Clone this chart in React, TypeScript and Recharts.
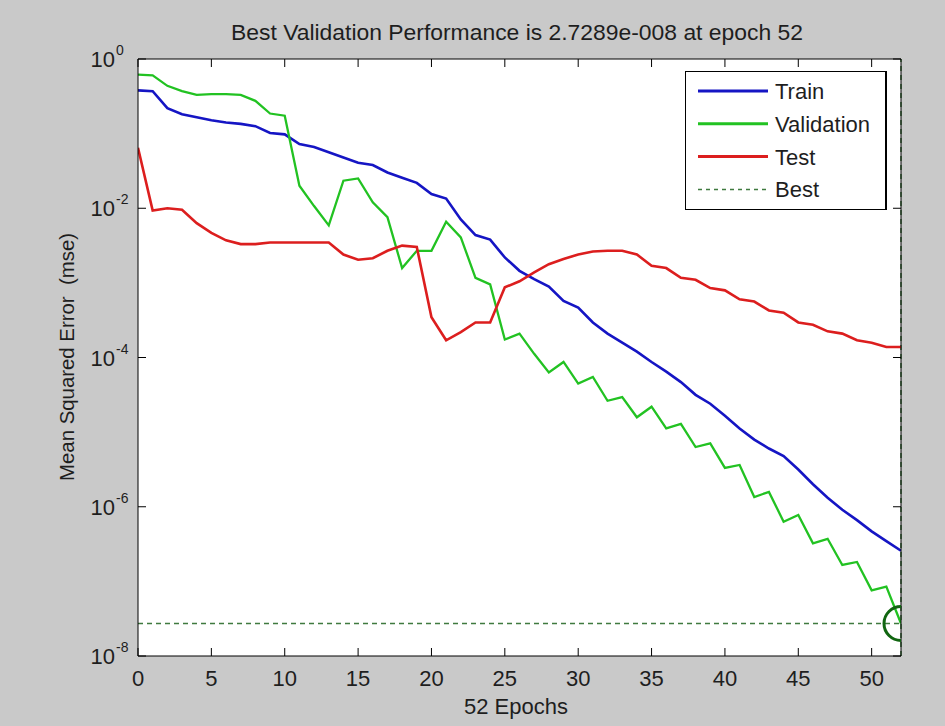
import React from 'react';
import { LineChart, Line, XAxis, YAxis, ReferenceLine, ReferenceDot, Legend, CartesianGrid } from 'recharts';

const epochs = [0, 1, 2, 3, 4, 5, 6, 7, 8, 9, 10, 11, 12, 13, 14, 15, 16, 17, 18, 19, 20, 21, 22, 23, 24, 25, 26, 27, 28, 29, 30, 31, 32, 33, 34, 35, 36, 37, 38, 39, 40, 41, 42, 43, 44, 45, 46, 47, 48, 49, 50, 51, 52];

const trainMse = [
  0.38, 0.37, 0.219, 0.182, 0.166, 0.151, 0.141, 0.135, 0.126, 0.102,
  0.0977, 0.0724, 0.0661, 0.0562, 0.0479, 0.0407, 0.038, 0.0302, 0.0257, 0.0219,
  0.0155, 0.0135, 0.00708, 0.00437, 0.0038, 0.00219, 0.00145, 0.00112, 8.91e-4, 5.75e-4,
  4.68e-4, 2.95e-4, 2.09e-4, 1.58e-4, 1.2e-4, 8.71e-5, 6.46e-5, 4.68e-5, 3.16e-5, 2.4e-5,
  1.66e-5, 1.12e-5, 7.94e-6, 6.03e-6, 4.79e-6, 3.16e-6, 2.0e-6, 1.32e-6, 9.12e-7, 6.61e-7,
  4.68e-7, 3.47e-7, 2.57e-7,
];

const validationMse = [
  0.617, 0.603, 0.437, 0.372, 0.331, 0.339, 0.339, 0.331, 0.275, 0.186,
  0.174, 0.02, 0.0107, 0.00589, 0.0234, 0.0251, 0.012, 0.00759, 0.00158, 0.00269,
  0.00269, 0.00661, 0.00407, 0.00117, 9.55e-4, 1.74e-4, 2.09e-4, 1.12e-4, 6.31e-5, 8.71e-5,
  4.47e-5, 5.5e-5, 2.63e-5, 2.95e-5, 1.58e-5, 2.19e-5, 1.12e-5, 1.29e-5, 6.31e-6, 7.08e-6,
  3.31e-6, 3.63e-6, 1.35e-6, 1.58e-6, 6.31e-7, 7.76e-7, 3.24e-7, 3.72e-7, 1.66e-7, 1.82e-7,
  7.59e-8, 8.51e-8, 2.7289e-8,
];

const testMse = [
  0.0646, 0.00933, 0.01, 0.00955, 0.00631, 0.00468, 0.00372, 0.00331, 0.00331, 0.00347,
  0.00347, 0.00347, 0.00347, 0.00347, 0.0024, 0.00204, 0.00214, 0.00269, 0.00316, 0.00302,
  3.47e-4, 1.7e-4, 2.19e-4, 2.95e-4, 2.95e-4, 8.71e-4, 0.00105, 0.00138, 0.00178, 0.00209,
  0.0024, 0.00263, 0.00269, 0.00269, 0.0024, 0.0017, 0.00158, 0.00117, 0.0011, 8.51e-4,
  7.94e-4, 6.03e-4, 5.62e-4, 4.27e-4, 3.98e-4, 2.95e-4, 2.75e-4, 2.24e-4, 2.09e-4, 1.7e-4,
  1.58e-4, 1.38e-4, 1.38e-4,
];

const xTicks = [0, 5, 10, 15, 20, 25, 30, 35, 40, 45, 50];
const yTicks = [1, 1e-2, 1e-4, 1e-6, 1e-8];
const yTickExponents = ['0', '-2', '-4', '-6', '-8'];

const bestEpoch = 52;
const bestPerf = 2.7289e-8;

const legendNames = ['Train', 'Validation', 'Test', 'Best'];
const titleText = 'Best Validation Performance is 2.7289e-008 at epoch 52';
const xLabelText = '52 Epochs';
const yLabelText = 'Mean Squared Error  (mse)';

const COLORS = {
  train: '#1515c4',
  validation: '#22c222',
  test: '#dc1e1e',
  best: '#3f7a3f',
  circle: '#116611',
};

const FONT = '"Liberation Sans", Arial, Helvetica, sans-serif';
const TEXT = '#1e1e1e';
const W = 945;
const H = 726;
const MARGIN = { top: 58, left: 137, right: 43, bottom: 69 };

const data = epochs.map((e, i) => ({
  epoch: e,
  train: trainMse[i],
  validation: validationMse[i],
  test: testMse[i],
}));

const BottomTick = (props: any) => {
  const { x, y, payload } = props;
  return (
    <g>
      <line x1={x} y1={y} x2={x} y2={y - 8} stroke="#000" strokeWidth={1} />
      <text x={x} y={y + 30} textAnchor="middle" fontSize={22} fontFamily={FONT} fill={TEXT}>
        {payload.value}
      </text>
    </g>
  );
};

const TopTick = (props: any) => {
  const { x, y } = props;
  return <line x1={x} y1={y} x2={x} y2={y + 8} stroke="#000" strokeWidth={1} />;
};

const LeftTick = (props: any) => {
  const { x, y, payload, index } = props;
  const exp = yTickExponents[yTicks.indexOf(payload.value)] ?? yTickExponents[index];
  return (
    <g>
      <line x1={x} y1={y} x2={x + 8} y2={y} stroke="#000" strokeWidth={1} />
      <text x={x - 23} y={y + 8} textAnchor="end" fontSize={22} fontFamily={FONT} fill={TEXT}>
        10
      </text>
      <text x={x - 22} y={y - 4} textAnchor="start" fontSize={14} fontFamily={FONT} fill={TEXT}>
        {exp}
      </text>
    </g>
  );
};

const RightTick = (props: any) => {
  const { x, y } = props;
  return <line x1={x} y1={y} x2={x - 8} y2={y} stroke="#000" strokeWidth={1} />;
};

const legendStyles = [
  { color: COLORS.train, dash: undefined as string | undefined, width: 3 },
  { color: COLORS.validation, dash: undefined as string | undefined, width: 3 },
  { color: COLORS.test, dash: undefined as string | undefined, width: 3 },
  { color: COLORS.best, dash: '4 4', width: 1.5 },
];

const LegendBox = () => (
  <div
    style={{
      width: 202,
      height: 139,
      border: '1px solid #000',
      borderRightWidth: 2,
      background: '#fff',
      boxSizing: 'border-box',
    }}
  >
    <svg width={200} height={137} style={{ display: 'block' }}>
      {legendNames.map((name, i) => {
        const cy = 19 + i * 32.8;
        const st = legendStyles[i];
        return (
          <g key={name}>
            <line x1={12} x2={82} y1={cy} y2={cy} stroke={st.color} strokeWidth={st.width} strokeDasharray={st.dash} />
            <text x={89} y={cy + 8} fontSize={22} fontFamily={FONT} fill={TEXT}>
              {name}
            </text>
          </g>
        );
      })}
    </svg>
  </div>
);

export default function App() {
  return (
    <div
      style={{
        position: 'absolute',
        left: 0,
        top: 0,
        width: W,
        height: H,
        background: '#c9c9c9',
        overflow: 'hidden',
      }}
    >
      <LineChart width={W} height={H} data={data} margin={MARGIN}>
        <CartesianGrid horizontal={false} vertical={false} fill="#ffffff" stroke="none" />
        <XAxis
          dataKey="epoch"
          type="number"
          domain={[0, 52]}
          ticks={xTicks}
          interval={0}
          allowDataOverflow
          height={1}
          tickSize={0}
          tickMargin={0}
          tickLine={false}
          axisLine={{ stroke: '#000', strokeWidth: 1 }}
          tick={<BottomTick />}
        />
        <XAxis
          xAxisId="top"
          orientation="top"
          dataKey="epoch"
          type="number"
          domain={[0, 52]}
          ticks={xTicks}
          interval={0}
          allowDataOverflow
          height={1}
          tickSize={0}
          tickMargin={0}
          tickLine={false}
          axisLine={{ stroke: '#000', strokeWidth: 1 }}
          tick={<TopTick />}
        />
        <YAxis
          type="number"
          scale="log"
          domain={[1e-8, 1]}
          ticks={yTicks}
          interval={0}
          allowDataOverflow
          width={1}
          tickSize={0}
          tickMargin={0}
          tickLine={false}
          axisLine={{ stroke: '#000', strokeWidth: 1 }}
          tick={<LeftTick />}
        />
        <YAxis
          yAxisId="right"
          orientation="right"
          type="number"
          scale="log"
          domain={[1e-8, 1]}
          ticks={yTicks}
          interval={0}
          allowDataOverflow
          width={1}
          tickSize={0}
          tickMargin={0}
          tickLine={false}
          axisLine={{ stroke: '#000', strokeWidth: 1 }}
          tick={<RightTick />}
        />
        <ReferenceLine y={bestPerf} stroke={COLORS.best} strokeWidth={1.5} strokeDasharray="5 4" />
        <ReferenceLine x={bestEpoch} stroke={COLORS.best} strokeWidth={1.5} strokeDasharray="5 4" />
        <Line type="linear" dataKey="train" name="Train" stroke={COLORS.train} strokeWidth={2.6} dot={false} isAnimationActive={false} />
        <Line type="linear" dataKey="validation" name="Validation" stroke={COLORS.validation} strokeWidth={2.3} dot={false} isAnimationActive={false} />
        <Line type="linear" dataKey="test" name="Test" stroke={COLORS.test} strokeWidth={2.6} dot={false} isAnimationActive={false} />
        <ReferenceDot
          x={bestEpoch}
          y={bestPerf}
          r={17}
          fill="none"
          stroke={COLORS.circle}
          strokeWidth={3}
          ifOverflow="hidden"
        />
        <Legend
          layout="vertical"
          align="center"
          verticalAlign="middle"
          content={() => <LegendBox />}
          wrapperStyle={{ position: 'absolute', left: 685, top: 71, width: 202, height: 139 }}
        />
      </LineChart>
      <svg
        width={W}
        height={H}
        style={{ position: 'absolute', left: 0, top: 0, pointerEvents: 'none' }}
      >
        <text
          x={517}
          y={40}
          textAnchor="middle"
          fontSize={22}
          fontFamily={FONT}
          fill={TEXT}
          textLength={572}
          lengthAdjust="spacingAndGlyphs"
        >
          {titleText}
        </text>
        <text x={516} y={714} textAnchor="middle" fontSize={22} fontFamily={FONT} fill={TEXT}>
          {xLabelText}
        </text>
        <text
          x={74}
          y={357}
          transform="rotate(-90, 74, 357)"
          textAnchor="middle"
          fontSize={21}
          fontFamily={FONT}
          fill={TEXT}
          style={{ whiteSpace: 'pre' }}
          textLength={248}
          lengthAdjust="spacingAndGlyphs"
        >
          {yLabelText}
        </text>
      </svg>
    </div>
  );
}
